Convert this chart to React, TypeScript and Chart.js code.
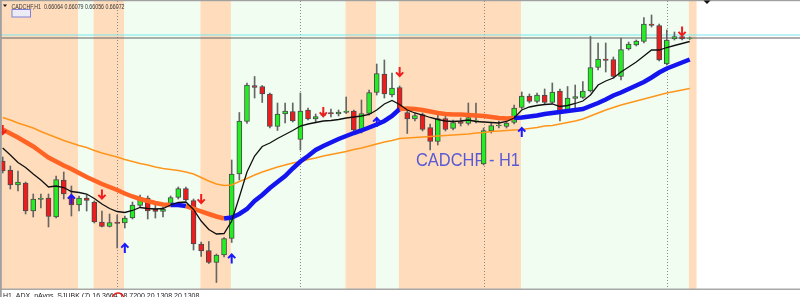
import React, { useEffect, useRef } from "react";
import { Chart, registerables } from "chart.js";

Chart.register(...registerables);

// ---------- data ----------
const symbolLabel = "CADCHF,H1";
const headerValues = ["0.66064", "0.66079", "0.66056", "0.66072"];
const watermark = "CADCHF - H1";
const subWindowLabel = "H1_ADX_nAvgs_SJUBK (7) 16.3664 18.7200 20.1308 20.1308";

const opens = [
  0.65826, 0.65808, 0.65778, 0.65782, 0.65726, 0.65749, 0.65752, 0.65714, 0.65788, 0.65754,
  0.65738, 0.65752, 0.65744, 0.65704, 0.65695, 0.65704, 0.65702, 0.65712, 0.65737, 0.65752,
  0.6573, 0.65725, 0.65739, 0.65753, 0.65771, 0.65747, 0.6566, 0.65647, 0.65623, 0.65638,
  0.65671, 0.658, 0.65905, 0.65977, 0.65975, 0.6596, 0.65895, 0.6592, 0.65925, 0.65869,
  0.65928, 0.6591, 0.6592, 0.65923, 0.6592, 0.65923, 0.65926, 0.65888, 0.65921, 0.65963,
  0.66, 0.65958, 0.65973, 0.65923, 0.6591, 0.65919, 0.65893, 0.65865, 0.65911, 0.65891,
  0.65905, 0.65901, 0.65907, 0.6582, 0.65886, 0.65896, 0.65895, 0.65903, 0.65933, 0.65956,
  0.65945, 0.65958, 0.65943, 0.65966, 0.65928, 0.65951, 0.65953, 0.65966, 0.66013, 0.6603,
  0.66029, 0.65995, 0.6605, 0.66058, 0.66065, 0.661, 0.66097, 0.6602, 0.6607, 0.66075,
  0.66071,
];
const highs = [
  0.65834, 0.65816, 0.65806, 0.65784, 0.6576, 0.6576, 0.6576, 0.65796, 0.65804, 0.65776,
  0.65756, 0.65758, 0.65746, 0.65726, 0.6572, 0.65718, 0.65716, 0.65744, 0.65758, 0.65756,
  0.65738, 0.65734, 0.65756, 0.65774, 0.65774, 0.6575, 0.65664, 0.65665, 0.6564, 0.65673,
  0.65828, 0.65923, 0.65982, 0.65995, 0.65977, 0.65962, 0.65942, 0.65942, 0.65942, 0.65962,
  0.65932, 0.6592, 0.65924, 0.6593, 0.65928, 0.65954, 0.65928, 0.65948, 0.65968, 0.6602,
  0.66028, 0.66002, 0.65976, 0.65928, 0.65922, 0.65922, 0.659, 0.65918, 0.65922, 0.65908,
  0.65912, 0.65942, 0.65942, 0.65892, 0.65902, 0.65906, 0.65906, 0.65938, 0.65964, 0.6596,
  0.65962, 0.6597, 0.65982, 0.6597, 0.65975, 0.65978, 0.65985, 0.66075, 0.66062, 0.66062,
  0.66034, 0.66072, 0.66064, 0.66068, 0.66113, 0.66118, 0.661, 0.66088, 0.66084, 0.66076,
  0.66074,
];
const lows = [
  0.65802, 0.6577, 0.65766, 0.6572, 0.65714, 0.65732, 0.65694, 0.65712, 0.6575, 0.65716,
  0.65726, 0.65726, 0.65702, 0.65694, 0.65694, 0.65652, 0.65692, 0.6571, 0.65734, 0.6571,
  0.65712, 0.65714, 0.65736, 0.6575, 0.65746, 0.65648, 0.65635, 0.65621, 0.65583, 0.65634,
  0.65663, 0.65788, 0.65901, 0.65952, 0.65943, 0.65892, 0.65887, 0.65902, 0.65904, 0.65848,
  0.65908, 0.65904, 0.65914, 0.65914, 0.65916, 0.65921, 0.65882, 0.65882, 0.65918, 0.65958,
  0.65952, 0.65954, 0.65926, 0.65881, 0.65906, 0.65886, 0.65848, 0.65858, 0.65886, 0.65888,
  0.65896, 0.65898, 0.65902, 0.65818, 0.65882, 0.65892, 0.65892, 0.659, 0.6593, 0.65942,
  0.65942, 0.6594, 0.65941, 0.65906, 0.65926, 0.65928, 0.65951, 0.65964, 0.66008, 0.66004,
  0.65992, 0.65988, 0.66048, 0.66056, 0.66062, 0.66094, 0.66026, 0.66018, 0.66068, 0.66068,
  0.66069,
];
const closes = [
  0.65806, 0.65778, 0.65784, 0.65726, 0.6575, 0.65752, 0.65715, 0.65789, 0.6576, 0.65738,
  0.65752, 0.65747, 0.65704, 0.65695, 0.65703, 0.65701, 0.65712, 0.65738, 0.65753, 0.65726,
  0.65725, 0.6573, 0.65753, 0.65771, 0.65748, 0.6566, 0.65646, 0.65623, 0.65638, 0.65671,
  0.658, 0.65906, 0.65978, 0.65973, 0.6596, 0.65895, 0.6592, 0.65926, 0.65906, 0.65926,
  0.6591, 0.65915, 0.65917, 0.6592, 0.65924, 0.65926, 0.65888, 0.65921, 0.65963, 0.66001,
  0.6596, 0.65972, 0.6593, 0.6591, 0.65917, 0.65889, 0.65865, 0.65911, 0.65889, 0.65903,
  0.65901, 0.65913, 0.65908, 0.65887, 0.65897, 0.65898, 0.65902, 0.65932, 0.65956, 0.65945,
  0.65958, 0.65943, 0.65964, 0.65925, 0.65952, 0.65955, 0.65966, 0.66013, 0.6603, 0.66027,
  0.65995, 0.66049, 0.6606, 0.66066, 0.661, 0.66097, 0.66028, 0.66068, 0.66075, 0.6607,
  0.66072,
];

// fast MA (black)
const maFast = [
  0.65852, 0.65838, 0.65823, 0.65813, 0.658, 0.65788, 0.65774, 0.65776, 0.65773, 0.65765,
  0.65763, 0.6576, 0.65751, 0.6574, 0.65731, 0.65725, 0.65723, 0.65727, 0.65733, 0.65731,
  0.6573, 0.65731, 0.65738, 0.65743, 0.65744, 0.65729, 0.65706, 0.65689, 0.6568, 0.65681,
  0.65706, 0.65754, 0.65804, 0.65836, 0.65855, 0.65862, 0.65871, 0.65879, 0.65887, 0.65896,
  0.659, 0.65903, 0.65906, 0.65907, 0.65909, 0.65912, 0.65914, 0.65916, 0.65919, 0.65928,
  0.6594, 0.65947, 0.65939, 0.65928, 0.65922, 0.65918, 0.65913, 0.65909, 0.65906, 0.65905,
  0.65906, 0.65908, 0.65905, 0.65904, 0.65903, 0.65902, 0.65905, 0.65912, 0.65928, 0.65934,
  0.65937, 0.65939, 0.6594, 0.65935, 0.65937, 0.65941, 0.65946, 0.65958, 0.65978, 0.65986,
  0.65992, 0.66004, 0.66014, 0.66024, 0.66036, 0.66048, 0.66048, 0.66053, 0.66057, 0.66061,
  0.66065,
];
// trend MA (thick, blue when rising / orange-red when falling)
const maTrend = [
  0.65889, 0.65881, 0.65873, 0.65864, 0.65855, 0.65844, 0.65833, 0.65825, 0.65817, 0.6581,
  0.65802, 0.65794, 0.65787, 0.6578, 0.65774, 0.65768, 0.65761, 0.65755, 0.6575, 0.65746,
  0.65742, 0.65739, 0.65738, 0.65738, 0.65736, 0.65731, 0.65725, 0.6572, 0.65715, 0.65711,
  0.65713, 0.6572, 0.6573, 0.65746, 0.65758, 0.65772, 0.65784, 0.65796, 0.65811, 0.65825,
  0.65836, 0.65848, 0.65856, 0.65863, 0.6587, 0.65876, 0.65882, 0.65887, 0.65893, 0.65899,
  0.65906, 0.65916, 0.6593, 0.65931, 0.6593, 0.65928, 0.65925, 0.65922, 0.6592, 0.65919,
  0.65919, 0.65918, 0.65917, 0.65916, 0.65914, 0.65912, 0.65911, 0.65912, 0.65913, 0.65915,
  0.65917, 0.6592, 0.65922, 0.65924, 0.65926, 0.65928, 0.6593, 0.65936, 0.65942, 0.65949,
  0.65957, 0.65963, 0.6597, 0.65977, 0.65984, 0.65993, 0.66003, 0.66011, 0.66017, 0.66023,
  0.66029,
];
const trendUp = [
  0, 0, 0, 0, 0, 0, 0, 0, 0, 0, 0, 0, 0, 0, 0, 0, 0, 0, 0, 0,
  0, 0, 0, 1, 1, 0, 0, 0, 0, 0, 1, 1, 1, 1, 1, 1, 1, 1, 1, 1,
  1, 1, 1, 1, 1, 1, 1, 1, 1, 1, 1, 1, 1, 0, 0, 0, 0, 0, 0, 0,
  0, 0, 0, 0, 0, 0, 0, 0, 1, 1, 1, 1, 1, 1, 1, 1, 1, 1, 1, 1,
  1, 1, 1, 1, 1, 1, 1, 1, 1, 1, 1,
];
// slow MA (orange)
const maSlow = [
  0.65913, 0.65908, 0.65902, 0.65897, 0.65892, 0.65885, 0.65879, 0.65873, 0.65867, 0.65862,
  0.65857, 0.65853, 0.65847, 0.65842, 0.65838, 0.65834, 0.65829, 0.65825, 0.65821, 0.65818,
  0.65814, 0.65811, 0.65809, 0.65807, 0.65804, 0.658, 0.65793, 0.65786, 0.6578, 0.65777,
  0.65778, 0.65785, 0.65791, 0.65798, 0.65804, 0.65809, 0.65814, 0.65818, 0.65822, 0.65825,
  0.65829, 0.65832, 0.65836, 0.65839, 0.65842, 0.65845, 0.65849, 0.65852, 0.65856, 0.6586,
  0.65864, 0.65867, 0.65871, 0.65872, 0.65873, 0.65874, 0.65875, 0.65876, 0.65877, 0.65878,
  0.65879, 0.6588, 0.65882, 0.65883, 0.65885, 0.65886, 0.65887, 0.65888, 0.65889, 0.65891,
  0.65893, 0.65896, 0.65897, 0.659, 0.65903, 0.65906, 0.6591, 0.65916, 0.65922, 0.65928,
  0.65933, 0.65938, 0.65942, 0.65946, 0.6595, 0.65954, 0.65958, 0.65962, 0.65965, 0.65968,
  0.65971,
];

// signal arrows
const sellBars = [0, 13, 26, 42, 52, 89];
const sellPrices = [0.65889, 0.6576, 0.65751, 0.65925, 0.66005, 0.66086];
const buyBars = [9, 16, 30, 49, 68];
const buyPrices = [0.65749, 0.65651, 0.6563, 0.65903, 0.65883];

// background session bands (bar index edges) and their kind (1 = peach, 0 = green)
const bandEdges = [-1, 9.9, 11.9, 15.9, 25.9, 29.9, 44.9, 48.9, 51.9, 67.9, 89.9, 90.9];
const bandPeach = [1, 0, 1, 0, 1, 0, 1, 0, 1, 0, 1];

// day separators (bar index)
const daySeparators = [15, 39, 63, 87];

const askPrice = 0.66078;
const bidPrice = 0.66072;

// ---------- styles ----------
const PEACH = "#ffdcbc";
const GREENBG = "#f0fdf0";
const BULL = "#22ee22";
const BEAR = "#ee1c1c";
const CANDLE_EDGE = "#4a4a4a";
const WICK = "#666666";
const TREND_UP = "#1414ee";
const TREND_DN = "#ff6424";
const SLOW = "#ff961c";
const FAST = "#101010";

const backdropPlugin = {
  id: "backdrop",
  beforeDatasetsDraw(chart: any) {
    const { ctx, scales } = chart;
    const x = scales.x;
    const y = scales.y;
    const W = chart.width;
    ctx.save();
    ctx.fillStyle = "#ffffff";
    ctx.fillRect(0, 0, W, chart.height);
    const top = 1;
    const bottom = 289;
    for (let i = 0; i < bandPeach.length; i++) {
      const x0 = Math.max(0, x.getPixelForValue(bandEdges[i]));
      const x1 = x.getPixelForValue(bandEdges[i + 1]);
      ctx.fillStyle = bandPeach[i] ? PEACH : GREENBG;
      ctx.fillRect(x0, top, x1 - x0, bottom - top);
    }
    // day separators
    ctx.strokeStyle = "#8a8a8a";
    ctx.lineWidth = 1;
    ctx.setLineDash([1, 2]);
    for (const b of daySeparators) {
      const px = Math.round(x.getPixelForValue(b)) + 0.5;
      ctx.beginPath();
      ctx.moveTo(px, top);
      ctx.lineTo(px, 296);
      ctx.stroke();
    }
    ctx.setLineDash([]);
    // watermark
    ctx.font = "18px 'Liberation Sans', Arial, sans-serif";
    ctx.fillStyle = "#5a5ad4";
    ctx.textBaseline = "alphabetic";
    const w = ctx.measureText(watermark).width;
    ctx.save();
    ctx.translate(416, 165.5);
    ctx.scale(104 / w, 1);
    ctx.fillText(watermark, 0, 0);
    ctx.restore();
    // ask / bid lines
    const ya = y.getPixelForValue(askPrice);
    ctx.strokeStyle = "#78e8ee";
    ctx.lineWidth = 1.2;
    ctx.beginPath();
    ctx.moveTo(0, ya);
    ctx.lineTo(W, ya);
    ctx.stroke();
    const yb = y.getPixelForValue(bidPrice);
    ctx.strokeStyle = "rgba(110,110,110,0.55)";
    ctx.lineWidth = 2;
    ctx.beginPath();
    ctx.moveTo(0, yb);
    ctx.lineTo(W, yb);
    ctx.stroke();
    ctx.restore();
  },
};

function drawArrow(ctx: CanvasRenderingContext2D, px: number, py: number, up: boolean, color: string) {
  const h = 4.5;
  const a = 3.6;
  ctx.strokeStyle = color;
  ctx.lineWidth = 2;
  ctx.lineCap = "butt";
  ctx.lineJoin = "miter";
  ctx.beginPath();
  if (up) {
    ctx.moveTo(px, py + h);
    ctx.lineTo(px, py - h + 1);
    ctx.moveTo(px - a, py - h + a);
    ctx.lineTo(px, py - h);
    ctx.lineTo(px + a, py - h + a);
  } else {
    ctx.moveTo(px, py - h);
    ctx.lineTo(px, py + h - 1);
    ctx.moveTo(px - a, py + h - a);
    ctx.lineTo(px, py + h);
    ctx.lineTo(px + a, py + h - a);
  }
  ctx.stroke();
}

const overlayPlugin = {
  id: "overlay",
  afterDatasetsDraw(chart: any) {
    const { ctx, scales } = chart;
    const x = scales.x;
    const y = scales.y;
    ctx.save();
    sellBars.forEach((b, i) => drawArrow(ctx, x.getPixelForValue(b), y.getPixelForValue(sellPrices[i]), false, "#f01e1e"));
    buyBars.forEach((b, i) => drawArrow(ctx, x.getPixelForValue(b), y.getPixelForValue(buyPrices[i]), true, "#1a1aff"));
    ctx.restore();
  },
  afterDraw(chart: any) {
    const { ctx } = chart;
    const W = chart.width;
    const H = chart.height;
    ctx.save();
    // bottom sub-window strip
    ctx.fillStyle = "#ffffff";
    ctx.fillRect(0, 289.5, W, H - 289.5);
    ctx.fillStyle = "#a8a8a8";
    ctx.fillRect(0, 288.5, W, 1.5);
    ctx.font = "7px 'Liberation Sans', Arial, sans-serif";
    ctx.fillStyle = "#222";
    ctx.textBaseline = "alphabetic";
    ctx.fillText(subWindowLabel, 3, 298);
    ctx.strokeStyle = "#e02020";
    ctx.lineWidth = 1.5;
    ctx.beginPath();
    ctx.arc(118, 299, 6, Math.PI * 1.1, Math.PI * 1.9);
    ctx.stroke();
    // top border
    ctx.fillStyle = "#a0a0a0";
    ctx.fillRect(0, 0, W, 1.2);
    // left border
    ctx.fillRect(0, 0, 1.8, H);
    // shift marker
    ctx.fillStyle = "#111";
    ctx.beginPath();
    ctx.moveTo(703.5, 0.5);
    ctx.lineTo(710.5, 0.5);
    ctx.lineTo(707, 4);
    ctx.closePath();
    ctx.fill();
    // header
    ctx.beginPath();
    ctx.moveTo(3, 4.5);
    ctx.lineTo(7, 4.5);
    ctx.lineTo(5, 7);
    ctx.closePath();
    ctx.fill();
    ctx.font = "6.5px 'Liberation Sans', Arial, sans-serif";
    ctx.fillStyle = "#333333";
    const header = symbolLabel + "  " + headerValues.join(" ");
    const hw = ctx.measureText(header).width;
    ctx.save();
    ctx.translate(11.5, 8.5);
    ctx.scale(113 / hw, 1);
    ctx.fillText(header, 0, 0);
    ctx.restore();
    // small button
    ctx.fillStyle = "#ececf6";
    ctx.fillRect(12, 9.5, 18.5, 7.5);
    ctx.strokeStyle = "#8080dc";
    ctx.lineWidth = 1;
    ctx.strokeRect(12, 9.5, 18.5, 7.5);
    ctx.restore();
  },
};

export default function App() {
  const ref = useRef<HTMLCanvasElement | null>(null);
  useEffect(() => {
    document.body.style.margin = "0";
    const canvas = ref.current;
    if (!canvas) return;
    const idx = opens.map((_, i) => i);
    const chart = new Chart(canvas, {
      type: "bar",
      data: {
        datasets: [
          {
            type: "line",
            data: idx.map((i) => ({ x: i, y: maFast[i] })),
            borderColor: FAST,
            borderWidth: 1.3,
            pointRadius: 0,
            tension: 0,
            order: 1,
          } as any,
          {
            type: "line",
            data: idx.map((i) => ({ x: i, y: maTrend[i] })),
            borderColor: TREND_DN,
            borderWidth: 4.5,
            pointRadius: 0,
            tension: 0,
            order: 2,
            segment: {
              borderColor: (c: any) => (trendUp[c.p1DataIndex] ? TREND_UP : TREND_DN),
            },
          } as any,
          {
            type: "line",
            data: idx.map((i) => ({ x: i, y: maSlow[i] })),
            borderColor: SLOW,
            borderWidth: 1.5,
            pointRadius: 0,
            tension: 0,
            order: 3,
          } as any,
          {
            type: "bar",
            data: idx.map((i) => ({ x: i, y: [opens[i], closes[i]] })),
            backgroundColor: idx.map((i) => (closes[i] >= opens[i] ? BULL : BEAR)),
            borderColor: CANDLE_EDGE,
            borderWidth: 1,
            borderSkipped: false,
            barThickness: 5,
            grouped: false,
            order: 4,
          } as any,
          {
            type: "bar",
            data: idx.map((i) => ({ x: i, y: [lows[i], highs[i]] })),
            backgroundColor: WICK,
            borderWidth: 0,
            barThickness: 1,
            grouped: false,
            order: 5,
          } as any,
        ],
      },
      options: {
        responsive: false,
        devicePixelRatio: 1,
        animation: false,
        events: [],
        layout: { padding: 0 },
        plugins: { legend: { display: false }, tooltip: { enabled: false } },
        scales: {
          x: { type: "linear", display: false, min: -0.354, max: 104.45, offset: false },
          y: { type: "linear", display: false, min: 0.65554, max: 0.66148 },
        },
      } as any,
      plugins: [backdropPlugin, overlayPlugin],
    });
    return () => chart.destroy();
  }, []);
  return (
    <div style={{ width: 800, height: 297, overflow: "hidden" }}>
      <canvas ref={ref} width={800} height={297} style={{ display: "block" }} />
    </div>
  );
}
